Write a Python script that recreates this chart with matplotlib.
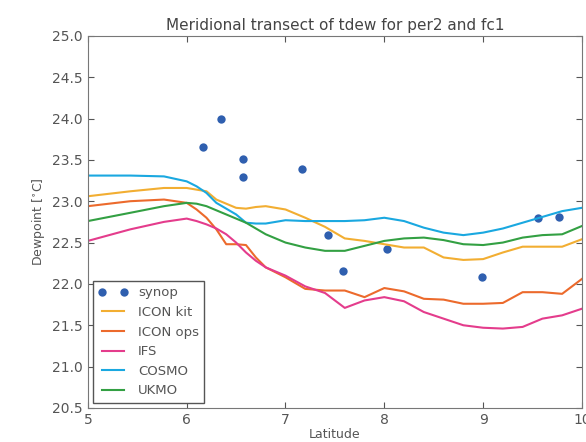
import matplotlib
matplotlib.use('Agg')
import matplotlib.pyplot as plt

# synop stations
synop_lat = [6.16, 6.35, 6.57, 6.57, 7.17, 7.43, 7.58, 8.03, 8.99, 9.56, 9.77]
synop_td = [23.65, 24.0, 23.51, 23.29, 23.39, 22.59, 22.16, 22.42, 22.08, 22.80, 22.81]

# model transects (latitude, dewpoint)
lat = [5.0, 5.43, 5.77, 6.0, 6.1, 6.2, 6.3, 6.4, 6.5, 6.6, 6.7, 6.8, 7.0, 7.2,
       7.4, 7.6, 7.8, 8.0, 8.2, 8.4, 8.6, 8.8, 9.0, 9.2, 9.4, 9.6, 9.8, 10.0]
icon_kit = [23.06, 23.12, 23.16, 23.16, 23.14, 23.12, 23.02, 22.97, 22.92, 22.91, 22.93,
            22.94, 22.90, 22.80, 22.69, 22.55, 22.52, 22.48, 22.44, 22.44, 22.32, 22.29,
            22.30, 22.38, 22.45, 22.45, 22.45, 22.54]
icon_ops = [22.94, 23.00, 23.02, 22.98, 22.90, 22.80, 22.66, 22.48, 22.48, 22.47, 22.32,
            22.20, 22.08, 21.94, 21.92, 21.92, 21.84, 21.95, 21.91, 21.82, 21.81, 21.76,
            21.76, 21.77, 21.90, 21.90, 21.88, 22.06]
ifs = [22.52, 22.66, 22.75, 22.79, 22.76, 22.72, 22.67, 22.60, 22.50, 22.38, 22.28,
       22.20, 22.10, 21.97, 21.89, 21.71, 21.80, 21.84, 21.79, 21.66, 21.58, 21.50,
       21.47, 21.46, 21.48, 21.58, 21.62, 21.70]
cosmo = [23.31, 23.31, 23.30, 23.24, 23.18, 23.10, 22.98, 22.91, 22.84, 22.74, 22.73,
         22.73, 22.77, 22.76, 22.76, 22.76, 22.77, 22.80, 22.76, 22.68, 22.62, 22.59,
         22.62, 22.67, 22.74, 22.81, 22.88, 22.92]
ukmo = [22.76, 22.86, 22.94, 22.98, 22.97, 22.94, 22.89, 22.84, 22.79, 22.74, 22.67,
        22.60, 22.50, 22.44, 22.40, 22.40, 22.46, 22.52, 22.55, 22.56, 22.53, 22.48,
        22.47, 22.50, 22.56, 22.59, 22.60, 22.70]

models = [('ICON kit', icon_kit, '#f2ae32'),
          ('ICON ops', icon_ops, '#ec6a2c'),
          ('IFS', ifs, '#e43c8c'),
          ('COSMO', cosmo, '#1aa8e0'),
          ('UKMO', ukmo, '#33a043')]

fig = plt.figure(figsize=(5.86, 4.42), dpi=100)
ax = fig.add_axes([0.150, 0.077, 0.843, 0.842])

ax.plot(synop_lat, synop_td, 'o', color='#2f5faf', markersize=6,
        markeredgewidth=0, label='synop')
for name, vals, col in models:
    ax.plot(lat, vals, color=col, linewidth=1.5, label=name)

ax.set_xlim(5, 10)
ax.set_ylim(20.5, 25.0)
ax.set_xticks([5, 6, 7, 8, 9, 10])
ax.set_yticks([20.5, 21.0, 21.5, 22.0, 22.5, 23.0, 23.5, 24.0, 24.5, 25.0])
ax.set_yticklabels(['%.1f' % v for v in ax.get_yticks()])
ax.tick_params(direction='in', top=True, right=True, labelsize=10,
               colors='#555555', length=4)
for s in ax.spines.values():
    s.set_color('#777777')

ax.set_title('Meridional transect of tdew for per2 and fc1', fontsize=11,
             color='#444444', pad=4)
ax.set_xlabel('Latitude', fontsize=9, color='#555555', labelpad=1)
ax.set_ylabel('Dewpoint [$^{\\circ}$C]', fontsize=9, color='#555555')

leg = ax.legend(loc='lower left', numpoints=2, fontsize=9.5, fancybox=False,
                framealpha=1, borderaxespad=0.4, handlelength=2.2)
leg.get_frame().set_edgecolor('#555555')
leg.get_frame().set_linewidth(1.0)
for t in leg.get_texts():
    t.set_color('#555555')

fig.savefig('out.png', dpi=100)
